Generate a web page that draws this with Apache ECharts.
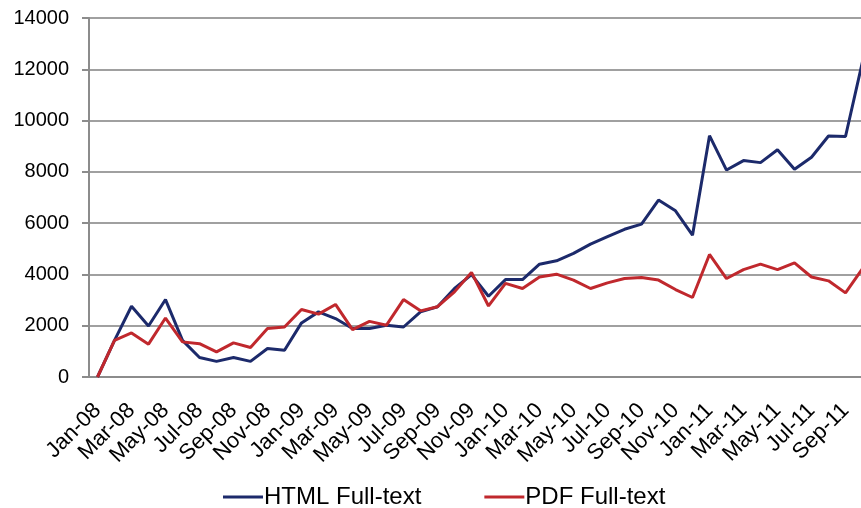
<!DOCTYPE html>
<html>
<head>
<meta charset="utf-8">
<script src="https://cdn.jsdelivr.net/npm/echarts@6/dist/echarts.min.js"></script>
<style>
  html, body { margin: 0; padding: 0; background: #fff; overflow: hidden; }
  /* the original figure is cropped on the right, so the plot runs past the window edge */
  #chart { width: 880px; height: 508px; }
</style>
</head>
<body>
<div id="chart"></div>
<script>
// monthly categories Jan-08 .. Oct-11
var months = ['Jan', 'Feb', 'Mar', 'Apr', 'May', 'Jun', 'Jul', 'Aug', 'Sep', 'Oct', 'Nov', 'Dec'];
var categories = [];
for (var y = 8; y <= 11; y++) {
  for (var m = 0; m < 12; m++) {
    if (y === 11 && m > 9) break;
    categories.push(months[m] + '-' + (y < 10 ? '0' + y : y));
  }
}

var htmlFullText = [
  0, 1430, 2760, 1990, 3020, 1430, 760, 610, 760, 610, 1110, 1040,
  2110, 2540, 2280, 1890, 1890, 2020, 1950, 2540, 2740, 3450, 3990, 3150,
  3800, 3800, 4400, 4530, 4820, 5180, 5470, 5760, 5960, 6900, 6480, 5530,
  9410, 8070, 8440, 8360, 8860, 8100, 8570, 9400, 9380, 12300
];

var pdfFullText = [
  0, 1430, 1720, 1280, 2300, 1370, 1300, 980, 1330, 1150, 1890, 1950,
  2630, 2450, 2830, 1850, 2170, 2020, 3020, 2580, 2740, 3320, 4080, 2770,
  3650, 3450, 3900, 4010, 3780, 3450, 3670, 3840, 3880, 3780, 3410, 3100,
  4780, 3840, 4190, 4400, 4190, 4450, 3900, 3750, 3280, 4230
];

var chart = echarts.init(document.getElementById('chart'));

var option = {
  animation: false,
  textStyle: { fontFamily: 'Liberation Sans, Arial, sans-serif' },
  grid: {
    left: 89,
    width: 782,
    top: 18,
    height: 359
  },
  legend: {
    left: 218,
    top: 480,
    icon: 'rect',
    itemWidth: 40,
    itemHeight: 3,
    itemGap: 63,
    textStyle: { fontSize: 24, color: '#000', padding: [0, 0, 0, -4] },
    data: ['HTML Full-text', 'PDF Full-text']
  },
  xAxis: {
    type: 'category',
    data: categories,
    boundaryGap: true,
    axisLine: { lineStyle: { color: '#8c8c8c', width: 2 } },
    axisTick: { interval: 1, length: 7, lineStyle: { color: '#8c8c8c', width: 2 } },
    axisLabel: {
      interval: 1,
      rotate: 45,
      fontSize: 22,
      color: '#000',
      margin: 30
    },
    splitLine: { show: false }
  },
  yAxis: {
    type: 'value',
    min: 0,
    max: 14000,
    interval: 2000,
    axisLine: { show: true, lineStyle: { color: '#8c8c8c', width: 2 } },
    axisTick: { show: true, length: 7, lineStyle: { color: '#8c8c8c', width: 2 } },
    axisLabel: {
      fontSize: 20,
      color: '#000',
      margin: 20,
      formatter: function (v) { return String(v); }
    },
    splitLine: { lineStyle: { color: '#a0a0a0', width: 2 } }
  },
  series: [
    {
      name: 'HTML Full-text',
      type: 'line',
      data: htmlFullText,
      showSymbol: false,
      color: '#1c2a6b',
      lineStyle: { width: 3, color: '#1c2a6b' }
    },
    {
      name: 'PDF Full-text',
      type: 'line',
      data: pdfFullText,
      showSymbol: false,
      color: '#c0282d',
      lineStyle: { width: 3, color: '#c0282d' }
    }
  ]
};

chart.setOption(option);
</script>
</body>
</html>
